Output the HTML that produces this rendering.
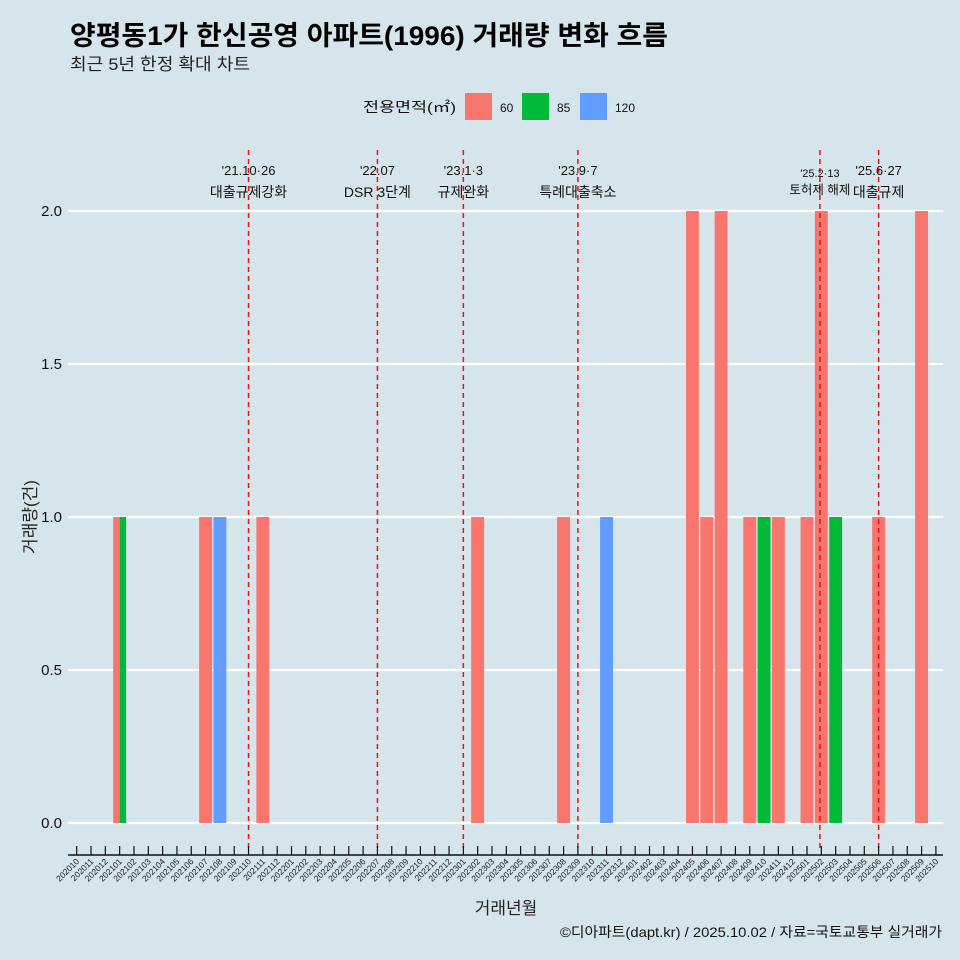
<!DOCTYPE html>
<html><head><meta charset="utf-8"><style>
body{margin:0;background:#d6e4ec;}
svg{display:block;font-family:"Liberation Sans","Noto Sans CJK KR",sans-serif;}
</style></head><body>
<svg id="chart" width="960" height="960" viewBox="0 0 960 960">
<rect x="0" y="0" width="960" height="960" fill="#d6e4ec"/>
<text x="70" y="45" font-size="27" font-weight="bold" fill="#000" textLength="598" lengthAdjust="spacingAndGlyphs">양평동1가 한신공영 아파트(1996) 거래량 변화 흐름</text>
<text x="70" y="70" font-size="17" fill="#222" textLength="180" lengthAdjust="spacingAndGlyphs">최근 5년 한정 확대 차트</text>
<g>
<text x="456" y="112" font-size="14" text-anchor="end" fill="#111" textLength="93" lengthAdjust="spacingAndGlyphs">전용면적(㎡)</text>
<rect x="465" y="93" width="27" height="27" fill="#f8766d"/>
<text x="500" y="112" font-size="12" fill="#111">60</text>
<rect x="522" y="93" width="27" height="27" fill="#00ba38"/>
<text x="557" y="112" font-size="12" fill="#111">85</text>
<rect x="580" y="93" width="27" height="27" fill="#619cff"/>
<text x="615" y="112" font-size="12" fill="#111">120</text>
</g>
<g id="grid"></g><g id="bars"></g><g id="events"></g><g id="axes"></g>
<text x="36" y="517" font-size="17" fill="#222" text-anchor="middle" transform="rotate(-90 36 517)">거래량(건)</text>
<text x="506" y="914" font-size="17" fill="#222" text-anchor="middle">거래년월</text>
<text x="942" y="937" font-size="14" fill="#111" text-anchor="end" textLength="382" lengthAdjust="spacingAndGlyphs">©디아파트(dapt.kr) / 2025.10.02 / 자료=국토교통부 실거래가</text>
</svg>
<script>
const months=[];
for(let y=2020,m=10;!(y===2025&&m===11);){months.push(''+y+(m<10?'0':'')+m);m++;if(m>12){m=1;y++;}}
const barMonths=['202101','202101','202107','202108','202111','202302','202308','202311','202405','202406','202407','202409','202410','202411','202501','202502','202503','202506','202509'];
const barAreas=['60','85','60','120','60','60','60','120','60','60','60','60','85','60','60','60','85','60','60'];
const barValues=[1,1,1,1,1,1,1,1,2,1,2,1,1,1,1,2,1,1,2];
const yTicks=[0,0.5,1.0,1.5,2.0];
const eventPos=[12,21,27,35,51.9,56];
const eventLine1=["'21.10·26","'22.07","'23.1·3","'23.9·7","'25.2·13","'25.6·27"];
const eventLine2=["대출규제강화","DSR 3단계","규제완화","특례대출축소","토허제 해제","대출규제"];
const colors={'60':'#f8766d','85':'#00ba38','120':'#619cff'};
const NS='http://www.w3.org/2000/svg';
const x0=76.7,dx=14.32,y0=823,y2=211;
const X=i=>x0+i*dx;
const Y=v=>y0+(y2-y0)*v/2;
function mk(tag,attrs,parent,text){const e=document.createElementNS(NS,tag);for(const k in attrs)e.setAttribute(k,attrs[k]);if(text!==undefined)e.textContent=text;parent.appendChild(e);return e;}
const grid=document.getElementById('grid'),bars=document.getElementById('bars'),ev=document.getElementById('events'),ax=document.getElementById('axes');
yTicks.forEach(t=>{
 const l=mk('line',{x1:68,x2:943,y1:Y(t),y2:Y(t),stroke:'#fff','stroke-width':2.2},grid);
 
 
 const tx=mk('text',{x:62,y:Y(t)+5,'font-size':15,'text-anchor':'end',fill:'#111'},grid,t.toFixed(1));
 
 
});
const counts={};barMonths.forEach(m=>counts[m]=(counts[m]||0)+1);
const seen={};
barMonths.forEach((m,k)=>{
 const i=months.indexOf(m);const n=counts[m];const j=seen[m]||0;seen[m]=j+1;
 const w=12.9/n;const left=X(i)-6.45+j*w;
 const r=mk('rect',{x:left,y:Y(barValues[k]),width:w,height:Y(0)-Y(barValues[k]),fill:colors[barAreas[k]]},bars);
 
 
});
eventPos.forEach((p,k)=>{
 const x=X(p);
 const l=mk('line',{x1:x,x2:x,y1:150,y2:852,stroke:'#ee1111','stroke-width':1.5,'stroke-dasharray':'5,4'},ev);
 
 
 const small=k===4;
 const t1=mk('text',{x:x,y:small?177:175,'font-size':small?11:13,'text-anchor':'middle',fill:'#111'},ev,eventLine1[k]);
 
 
 const t2=mk('text',{x:x,y:small?194:197,'font-size':small?12.5:14,'text-anchor':'middle',fill:'#111'},ev,eventLine2[k]);
 
 
});
const axl=mk('line',{x1:68,x2:943,y1:855,y2:855,stroke:'#111','stroke-width':1.5},ax);


months.forEach((m,i)=>{
 const x=X(i);
 const t=mk('line',{x1:x,x2:x,y1:846,y2:855,stroke:'#111','stroke-width':1.2},ax);
 
 
 const lb=mk('text',{x:x+3,y:862,'font-size':8.5,'text-anchor':'end',fill:'#222',transform:'rotate(-45 '+(x+3)+' 862)'},ax,m);
 
 
});
</script>
</body></html>
